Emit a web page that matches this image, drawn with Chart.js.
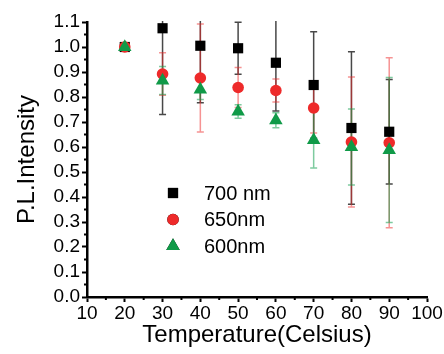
<!DOCTYPE html>
<html lang="en">
<head>
    <meta charset="UTF-8">
    <title>PL Intensity vs Temperature</title>
    <script src="https://cdn.jsdelivr.net/npm/chart.js"></script>
    <style>
        html, body {
            margin: 0;
            padding: 0;
            background: #fff;
        }
        .chart-box {
            width: 444px;
            height: 354px;
        }
    </style>
</head>
<body>
    <div class="chart-box">
        <canvas id="plChart" width="444" height="354"></canvas>
    </div>

    <script>
        // data
        const temperatures = [20, 30, 40, 50, 60, 70, 80, 90];
        const seriesLabels = ['700 nm', '650nm', '600nm'];

        const pl700 = [1.00, 1.075, 1.005, 0.995, 0.937, 0.848, 0.676, 0.661];
        const err700 = [0, 0.345, 0.228, 0.104, 0.193, 0.213, 0.305, 0.209];

        const pl650 = [1.00, 0.892, 0.876, 0.838, 0.826, 0.756, 0.620, 0.617];
        const err650 = [0, 0.085, 0.216, 0.080, 0.046, 0.100, 0.260, 0.340];

        const pl600 = [1.00, 0.866, 0.830, 0.742, 0.707, 0.628, 0.600, 0.588];
        const err600 = [0, 0.056, 0.040, 0.027, 0.030, 0.112, 0.152, 0.290];

        const xTicks = [10, 20, 30, 40, 50, 60, 70, 80, 90, 100];
        const yTicks = [0.0, 0.1, 0.2, 0.3, 0.4, 0.5, 0.6, 0.7, 0.8, 0.9, 1.0, 1.1];

        const FONT = "'Liberation Sans', Arial, sans-serif";

        function toPoints(values) {
            return temperatures.map((t, i) => ({ x: t, y: values[i] }));
        }

        // error bars, drawn behind the markers
        const errorBars = {
            id: 'errorBars',
            beforeDatasetsDraw(chart) {
                const { ctx, chartArea, scales } = chart;
                ctx.save();
                ctx.beginPath();
                ctx.rect(chartArea.left, chartArea.top - 1, chartArea.right - chartArea.left, chartArea.bottom - chartArea.top + 1);
                ctx.clip();
                chart.data.datasets.forEach(ds => {
                    ctx.strokeStyle = ds.errColor;
                    ctx.lineWidth = 1.5;
                    ds.data.forEach((p, i) => {
                        const e = ds.errors[i];
                        if (!e) return;
                        const x = scales.x.getPixelForValue(p.x);
                        const yTop = scales.y.getPixelForValue(p.y + e);
                        const yBot = scales.y.getPixelForValue(p.y - e);
                        ctx.beginPath();
                        ctx.moveTo(x, yTop);
                        ctx.lineTo(x, yBot);
                        ctx.moveTo(x - 3.5, yTop);
                        ctx.lineTo(x + 3.5, yTop);
                        ctx.moveTo(x - 3.5, yBot);
                        ctx.lineTo(x + 3.5, yBot);
                        ctx.stroke();
                    });
                });
                ctx.restore();
            }
        };

        // minor ticks halfway between the major ones
        const minorTicks = {
            id: 'minorTicks',
            afterDraw(chart) {
                const { ctx, chartArea, scales } = chart;
                ctx.save();
                ctx.strokeStyle = '#000';
                ctx.lineWidth = 2;
                ctx.beginPath();
                for (let i = 0; i < xTicks.length - 1; i++) {
                    const x = scales.x.getPixelForValue((xTicks[i] + xTicks[i + 1]) / 2);
                    ctx.moveTo(x, chartArea.bottom);
                    ctx.lineTo(x, chartArea.bottom + 3);
                }
                for (let i = 0; i < yTicks.length - 1; i++) {
                    const y = scales.y.getPixelForValue((yTicks[i] + yTicks[i + 1]) / 2);
                    ctx.moveTo(chartArea.left, y);
                    ctx.lineTo(chartArea.left - 3, y);
                }
                ctx.stroke();
                ctx.restore();
            }
        };

        // legend inside the plot
        const innerLegend = {
            id: 'innerLegend',
            afterDraw(chart) {
                const { ctx } = chart;
                const x0 = 173, y0 = 193, rowH = 26.5;
                ctx.save();
                ctx.font = '20px ' + FONT;
                ctx.textBaseline = 'middle';
                ctx.fillStyle = '#000';
                chart.data.datasets.forEach((ds, i) => {
                    const y = y0 + i * rowH;
                    Chart.helpers.drawPoint(ctx, {
                        pointStyle: ds.pointStyle,
                        radius: ds.pointRadius,
                        borderWidth: 0
                    }, x0, y);
                    ctx.fillStyle = ds.backgroundColor;
                    ctx.fill();
                    ctx.fillStyle = '#000';
                    ctx.fillText(ds.label, 204, y + 1);
                });
                ctx.restore();
            }
        };

        new Chart(document.getElementById('plChart'), {
            type: 'scatter',
            data: {
                datasets: [
                    {
                        label: seriesLabels[0],
                        data: toPoints(pl700),
                        errors: err700,
                        errColor: 'rgba(40,40,40,0.85)',
                        pointStyle: 'rect',
                        pointRadius: 7.2,
                        backgroundColor: '#000',
                        borderColor: '#000',
                        borderWidth: 0,
                        order: 3
                    },
                    {
                        label: seriesLabels[1],
                        data: toPoints(pl650),
                        errors: err650,
                        errColor: 'rgba(238,40,40,0.5)',
                        pointStyle: 'circle',
                        pointRadius: 5.8,
                        backgroundColor: '#ee2a2a',
                        borderColor: '#ee2a2a',
                        borderWidth: 0,
                        order: 2
                    },
                    {
                        label: seriesLabels[2],
                        data: toPoints(pl600),
                        errors: err600,
                        errColor: 'rgba(20,160,80,0.55)',
                        pointStyle: 'triangle',
                        pointRadius: 7.8,
                        backgroundColor: '#109a48',
                        borderColor: '#109a48',
                        borderWidth: 0,
                        order: 1
                    }
                ]
            },
            options: {
                responsive: false,
                animation: false,
                events: [],
                layout: {
                    padding: { top: 22, right: 17, left: 0, bottom: 0 }
                },
                plugins: {
                    legend: { display: false },
                    tooltip: { enabled: false }
                },
                scales: {
                    x: {
                        type: 'linear',
                        min: 10,
                        max: 100,
                        afterBuildTicks(scale) {
                            scale.ticks = xTicks.map(v => ({ value: v }));
                        },
                        afterFit(scale) {
                            scale.height = 57;
                        },
                        grid: {
                            drawOnChartArea: false,
                            drawTicks: true,
                            tickLength: 5,
                            tickWidth: 2,
                            tickColor: '#000'
                        },
                        border: { display: true, color: '#000', width: 2.5 },
                        ticks: {
                            color: '#000',
                            padding: 0,
                            maxRotation: 0,
                            autoSkip: false,
                            font: { family: FONT, size: 19 }
                        },
                        title: {
                            display: true,
                            text: 'Temperature(Celsius)',
                            color: '#000',
                            padding: { top: -4, bottom: 4 },
                            font: { family: FONT, size: 24 }
                        }
                    },
                    y: {
                        type: 'linear',
                        min: 0,
                        max: 1.1,
                        afterBuildTicks(scale) {
                            scale.ticks = yTicks.map(v => ({ value: v }));
                        },
                        afterFit(scale) {
                            scale.width = 87;
                        },
                        grid: {
                            drawOnChartArea: false,
                            drawTicks: true,
                            tickLength: 5,
                            tickWidth: 2,
                            tickColor: '#000'
                        },
                        border: { display: true, color: '#000', width: 2.5 },
                        ticks: {
                            color: '#000',
                            padding: 2,
                            autoSkip: false,
                            font: { family: FONT, size: 19 },
                            callback: v => Number(v).toFixed(1)
                        },
                        title: {
                            display: true,
                            text: 'P.L.Intensity',
                            color: '#000',
                            padding: { top: 13, bottom: 0 },
                            font: { family: FONT, size: 24 }
                        }
                    }
                }
            },
            plugins: [errorBars, minorTicks, innerLegend]
        });
    </script>
</body>
</html>
